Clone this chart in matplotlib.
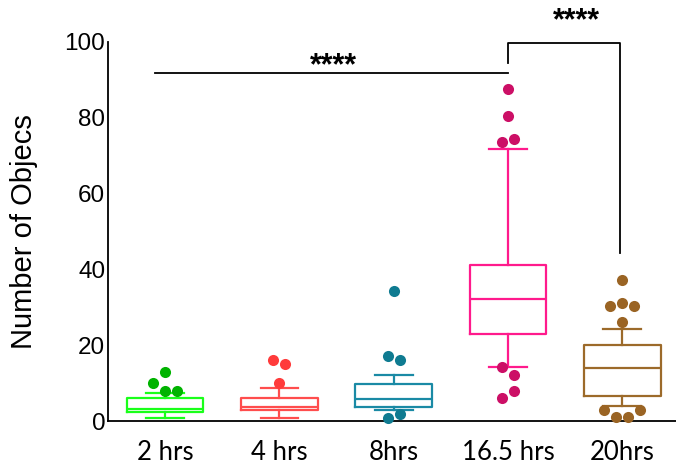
import matplotlib
matplotlib.use('Agg')
import matplotlib.pyplot as plt

# Dados
grupos = ['2 hrs', '4 hrs', '8hrs', '16.5 hrs', '20hrs']
q1 = [2.5, 2.9, 3.8, 23.0, 6.7]
mediana = [3.1, 3.8, 5.8, 32.2, 14.1]
q3 = [6.0, 6.0, 9.8, 41.2, 20.1]
whis_min = [0.9, 0.9, 2.9, 14.3, 4.0]
whis_max = [7.5, 8.8, 12.1, 71.7, 24.3]
outliers = [
    [13.0, 10.1, 8.0, 8.0],
    [16.1, 15.0, 10.1],
    [34.3, 17.2, 16.0, 1.8, 0.9],
    [87.7, 80.6, 73.5, 74.5, 14.2, 12.1, 8.0, 6.0],
    [37.2, 30.3, 31.2, 30.3, 26.1, 2.9, 2.9, 1.0, 1.0],
]
# deslocamento horizontal dos pontos (em meias larguras de marcador)
desloc = [
    [0, -2, 0, 2],
    [-1, 1, 0],
    [0, -1, 1, 1, -1],
    [0, 0, -1, 1, -1, 1, 1, -1],
    [0, -2, 0, 2, 0, -3, 3, -1, 1],
]
cor_caixa = ['#1aff1a', '#ff4d4d', '#1a8aa5', '#ff1a8c', '#9c6a2a']
cor_ponto = ['#00b300', '#ff3b3b', '#0f7b91', '#cc0f66', '#9a6424']

fig = plt.figure(figsize=(6.76, 4.70), dpi=100)
ax = fig.add_axes([108 / 676, 49 / 470, 1 - 108 / 676, 379 / 470])

passo = 0.0525
for i in range(len(grupos)):
    st = [dict(med=mediana[i], q1=q1[i], q3=q3[i], whislo=whis_min[i],
               whishi=whis_max[i], fliers=[])]
    c = cor_caixa[i]
    ax.bxp(st, positions=[i], widths=0.67, showfliers=False,
           boxprops=dict(color=c, linewidth=1.6),
           medianprops=dict(color=c, linewidth=1.6),
           whiskerprops=dict(color=c, linewidth=1.6),
           capprops=dict(color=c, linewidth=1.6), capwidths=0.33)
    xs = [i + d * passo for d in desloc[i]]
    ax.plot(xs, outliers[i], 'o', color=cor_ponto[i], markersize=8,
            markeredgewidth=0, clip_on=False, zorder=3)

# barras de significância
ax.plot([-0.087, 3.0], [91.8, 91.8], color='k', lw=1.3, clip_on=False)
ax.text(1.47, 89.6, '****', ha='center', va='bottom', fontsize=22,
        fontweight='bold', family='Liberation Sans')
ax.plot([3.0, 3.0, 3.98, 3.98], [94.4, 99.7, 99.7, 44.3], color='k', lw=1.3,
        clip_on=False)
ax.text(3.6, 101.5, '****', ha='center', va='bottom', fontsize=22,
        fontweight='bold', family='Liberation Sans')

ax.set_xlim(-0.5, 4.47)
ax.set_ylim(0, 100)
ax.set_yticks([0, 20, 40, 60, 80, 100])
ax.set_xticks(range(len(grupos)))
ax.set_xticklabels(grupos, fontsize=18.5, family='Lato')
for lab in ax.get_yticklabels():
    lab.set_fontsize(17.5)
    lab.set_family('Liberation Sans')
ax.tick_params(length=0)
ax.tick_params(axis='y', pad=2)
ax.tick_params(axis='x', pad=14)
ax.set_ylabel('Number of Objecs', fontsize=21, family='Liberation Sans',
              labelpad=19)
ax.spines['top'].set_visible(False)
ax.spines['right'].set_visible(False)
ax.spines['left'].set_linewidth(1.3)
ax.spines['bottom'].set_linewidth(1.3)

fig.savefig('out.png', dpi=100)
